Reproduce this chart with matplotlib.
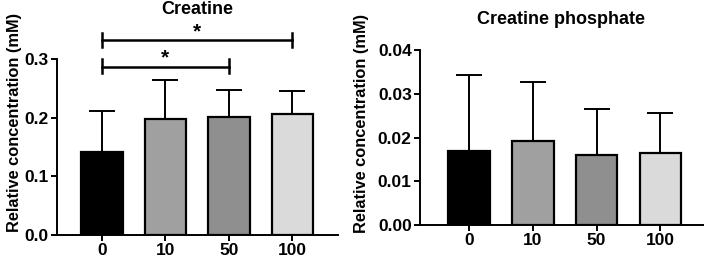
import numpy as np
import matplotlib
matplotlib.use("Agg")
import matplotlib.pyplot as plt

plt.rcParams['font.family'] = ['Liberation Sans', 'DejaVu Sans']
plt.rcParams['font.weight'] = 'bold'

groups = ["0", "10", "50", "100"]
colors = ["#000000", "#a0a0a0", "#8f8f8f", "#dadada"]

creatine = [0.142, 0.197, 0.201, 0.206]
creatine_sd = [0.069, 0.067, 0.047, 0.040]

cp = [0.0170, 0.0193, 0.0161, 0.0164]
cp_sd = [0.0173, 0.0135, 0.0104, 0.0091]

# significance pairs (index a, index b, y level)
sig_pairs = [(0, 2, 0.287), (0, 3, 0.332)]

W, H = 706, 261
fig = plt.figure(figsize=(W / 100, H / 100), dpi=100)


def panel(rect, vals, sds, ylim, yticks, fmt, title, xlim, title_y):
    ax = fig.add_axes(rect)
    x = np.arange(len(groups))
    ax.bar(x, vals, width=0.65, color=colors, edgecolor="black", linewidth=1.6, zorder=2)
    ax.errorbar(x, vals, yerr=[np.zeros(len(sds)), sds], fmt="none", ecolor="black",
                elinewidth=1.4, capsize=9.5, capthick=1.4, zorder=1)
    ax.set_xlim(*xlim)
    ax.set_ylim(*ylim)
    ax.set_yticks(yticks)
    ax.set_yticklabels([fmt.format(v) for v in yticks])
    ax.set_xticks(x)
    ax.set_xticklabels(groups)
    for s in ["top", "right"]:
        ax.spines[s].set_visible(False)
    for s in ["left", "bottom"]:
        ax.spines[s].set_linewidth(1.4)
    ax.tick_params(width=1.4, length=4, labelsize=12.5, pad=2)
    ax.set_ylabel("Relative concentration (mM)", fontsize=11.8, fontweight="bold")
    fig.text(rect[0] + rect[2] / 2, title_y, title, ha="center", va="center",
             fontsize=13, fontweight="bold")
    return ax


def fx(px):
    return px / W


def fy(px):
    return 1 - px / H


ax1 = panel([fx(57), fy(235), fx(338 - 57), (235 - 59) / H], creatine, creatine_sd,
            (0, 0.3), [0.0, 0.1, 0.2, 0.3], "{:.1f}", "Creatine", (-0.71, 3.72), fy(9))
ax1.yaxis.set_label_coords(-0.125, 0.64)

for a, b, y in sig_pairs:
    ax1.plot([a, b], [y, y], color="black", lw=1.8, clip_on=False)
    for xx in (a, b):
        ax1.plot([xx, xx], [y - 0.011, y + 0.013], color="black", lw=1.8, clip_on=False)
    ax1.text((a + b) / 2, y - 0.002, "*", ha="center", va="bottom", fontsize=15,
             fontweight="bold", clip_on=False)

ax2 = panel([fx(420), fy(225), fx(703 - 420), (225 - 50) / H], cp, cp_sd,
            (0, 0.04), [0.0, 0.01, 0.02, 0.03, 0.04], "{:.2f}", "Creatine phosphate",
            (-0.77, 3.67), fy(19))
ax2.yaxis.set_label_coords(-0.18, 0.58)

fig.savefig("out.png", dpi=100)
